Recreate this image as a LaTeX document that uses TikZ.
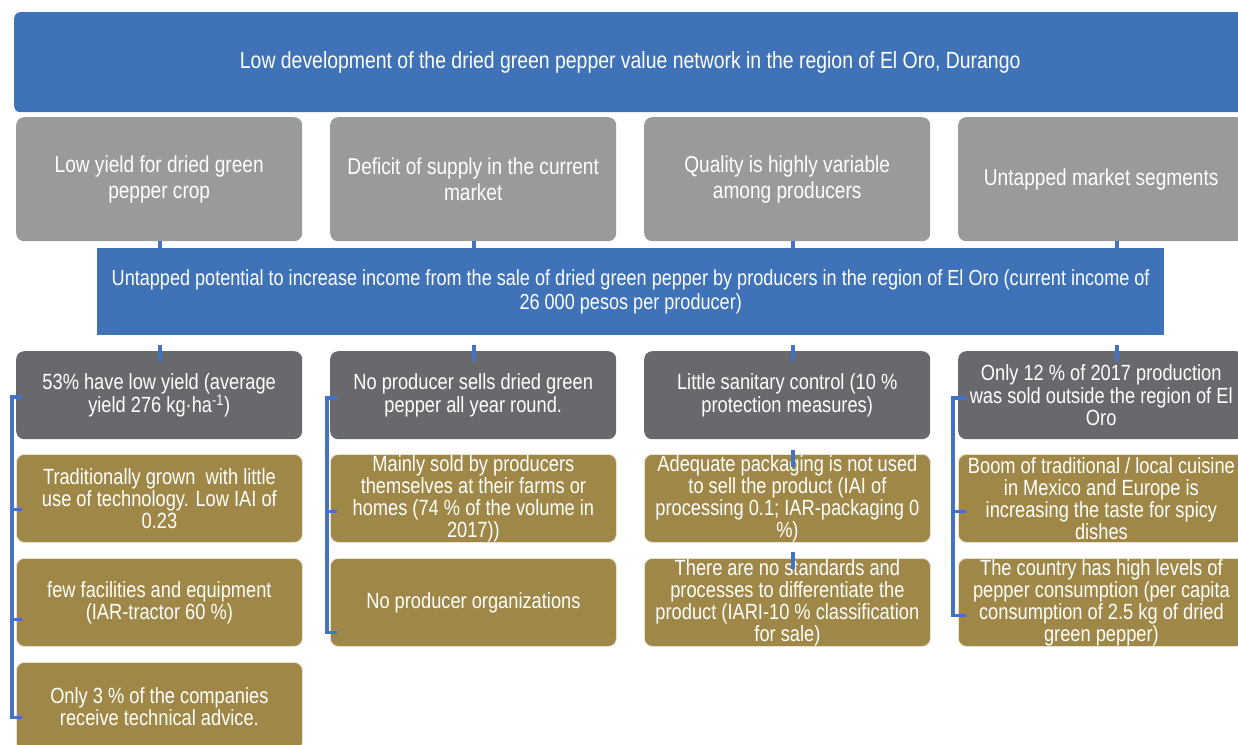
\documentclass[tikz,border=0pt]{standalone}
\usepackage{fontspec}
\setmainfont[FakeStretch=0.83]{Liberation Sans}
\definecolor{headblue}{RGB}{64,114,184}
\definecolor{lightgrey}{RGB}{152,154,155}
\definecolor{darkgrey}{RGB}{104,105,109}
\definecolor{goldbox}{RGB}{159,136,71}
\definecolor{linkblue}{RGB}{68,114,196}
\begin{document}
\begin{tikzpicture}[x=1pt,y=-1pt,
  box/.style={anchor=north west, inner sep=0pt, align=center, text=white,
    minimum width=286pt, minimum height=88pt, rounded corners=8pt},
  headbox/.style={box, fill=headblue, rounded corners=6pt,
    minimum width=1232pt, minimum height=100pt, font=\fontsize{23.4}{26}\selectfont},
  causebox/.style={box, fill=lightgrey, minimum height=124pt,
    font=\fontsize{23}{26}\selectfont},
  corebox/.style={box, fill=headblue, rounded corners=0pt,
    minimum width=1067pt, minimum height=87pt, font=\fontsize{21.8}{24}\selectfont},
  factbox/.style={box, fill=darkgrey, font=\fontsize{22}{22.3}\selectfont},
  detailbox/.style={box, fill=goldbox, draw=white!75!goldbox, line width=0.8pt,
    font=\fontsize{22}{22}\selectfont},
  stub/.style={draw=linkblue, line width=4pt},
  bracket/.style={draw=linkblue, line width=3.5pt, line join=miter},
]
\useasboundingbox (0,0) rectangle (1238,744);
\clip (0,0) rectangle (1238,744);

% problem statement
\node[headbox] (head) at (14,12)
  {Low development of the dried green pepper value network in the region of El Oro, Durango};

% causes
\node[causebox] (c1) at (16,117)  {Low yield for dried green\\pepper crop};
\node[causebox] (c2) at (330,117) {Deficit of supply in the current\\market};
\node[causebox] (c3) at (644,117) {Quality is highly variable\\among producers};
\node[causebox] (c4) at (958,117) {Untapped market segments};

% central effect
\node[corebox] (core) at (97,248)
  {Untapped potential to increase income from the sale of dried green pepper by producers in the region of El Oro (current income of\\26 000 pesos per producer)};

% facts
\node[factbox] (f1) at (16,351)  {53\% have low yield (average\\yield 276 kg·ha\textsuperscript{-1})};
\node[factbox] (f2) at (330,351) {No producer sells dried green\\pepper all year round.};
\node[factbox] (f3) at (644,351) {Little sanitary control (10 \%\\protection measures)};
\node[factbox] (f4) at (958,351) {Only 12 \% of 2017 production\\was sold outside the region of El\\Oro};

% details, column 1
\node[detailbox] (d1a) at (16,454) {Traditionally grown\ \ with little\\use of technology. Low IAI of\\0.23};
\node[detailbox] (d1b) at (16,558) {few facilities and equipment\\(IAR-tractor 60 \%)};
\node[detailbox] (d1c) at (16,662) {Only 3 \% of the companies\\receive technical advice.};
% details, column 2
\node[detailbox] (d2a) at (330,454) {Mainly sold by producers\\themselves at their farms or\\homes (74 \% of the volume in\\2017))};
\node[detailbox] (d2b) at (330,558) {No producer organizations};
% details, column 3
\node[detailbox] (d3a) at (644,454) {Adequate packaging is not used\\to sell the product (IAI of\\processing 0.1; IAR-packaging 0\\\%)};
\node[detailbox] (d3b) at (644,558) {There are no standards and\\processes to differentiate the\\product (IARI-10 \% classification\\for sale)};
% details, column 4
\node[detailbox] (d4a) at (958,454) {Boom of traditional / local cuisine\\in Mexico and Europe is\\increasing the taste for spicy\\dishes};
\node[detailbox] (d4b) at (958,558) {The country has high levels of\\pepper consumption (per capita\\consumption of 2.5 kg of dried\\green pepper)};

% short links from causes to the central effect
\draw[stub] ([xshift=1pt]c1.south)  -- ([xshift=1pt]c1.south |- core.north);
\draw[stub] ([xshift=0.5pt]c2.south) -- ([xshift=0.5pt]c2.south |- core.north);
\draw[stub] ([xshift=6pt]c3.south)  -- ([xshift=6pt]c3.south |- core.north);
\draw[stub] ([xshift=16pt]c4.south) -- ([xshift=16pt]c4.south |- core.north);

% short links from the central effect to the facts
\foreach \n/\dx in {f1/1, f2/0.5, f3/6, f4/16}
  \draw[stub] ([xshift=\dx pt, yshift=6pt]\n.north) -- ([xshift=\dx pt, yshift=-10pt]\n.north);

% column 3 chain
\draw[stub] ([xshift=6pt, yshift=4pt]d3a.north) -- ([xshift=6pt, yshift=-13pt]d3a.north);
\draw[stub] ([xshift=6pt, yshift=6pt]d3b.north) -- ([xshift=6pt, yshift=-11pt]d3b.north);

% brackets grouping the details of columns 1, 2 and 4
\draw[bracket] ([xshift=6pt, yshift=-2pt]f1.west) -- ([xshift=-4pt, yshift=-2pt]f1.west)
  -- ([xshift=-4pt, yshift=-11pt]d1c.west) -- ([xshift=6pt, yshift=-11pt]d1c.west);
\draw[bracket] ([xshift=-4pt, yshift=-11pt]d1a.west) -- ([xshift=6pt, yshift=-11pt]d1a.west);
\draw[bracket] ([xshift=-4pt, yshift=-17pt]d1b.west) -- ([xshift=6pt, yshift=-17pt]d1b.west);

\draw[bracket] ([xshift=7pt, yshift=-3pt]f2.west) -- ([xshift=-3pt, yshift=-3pt]f2.west)
  -- ([xshift=-3pt, yshift=-30pt]d2b.west) -- ([xshift=7pt, yshift=-30pt]d2b.west);
\draw[bracket] ([xshift=-3pt, yshift=-13pt]d2a.west) -- ([xshift=7pt, yshift=-13pt]d2a.west);

\draw[bracket] ([xshift=8pt, yshift=-3pt]f4.west) -- ([xshift=-5pt, yshift=-3pt]f4.west)
  -- ([xshift=-5pt, yshift=-13pt]d4b.west) -- ([xshift=8pt, yshift=-13pt]d4b.west);
\draw[bracket] ([xshift=-5pt, yshift=-13pt]d4a.west) -- ([xshift=8pt, yshift=-13pt]d4a.west);
\end{tikzpicture}
\end{document}
